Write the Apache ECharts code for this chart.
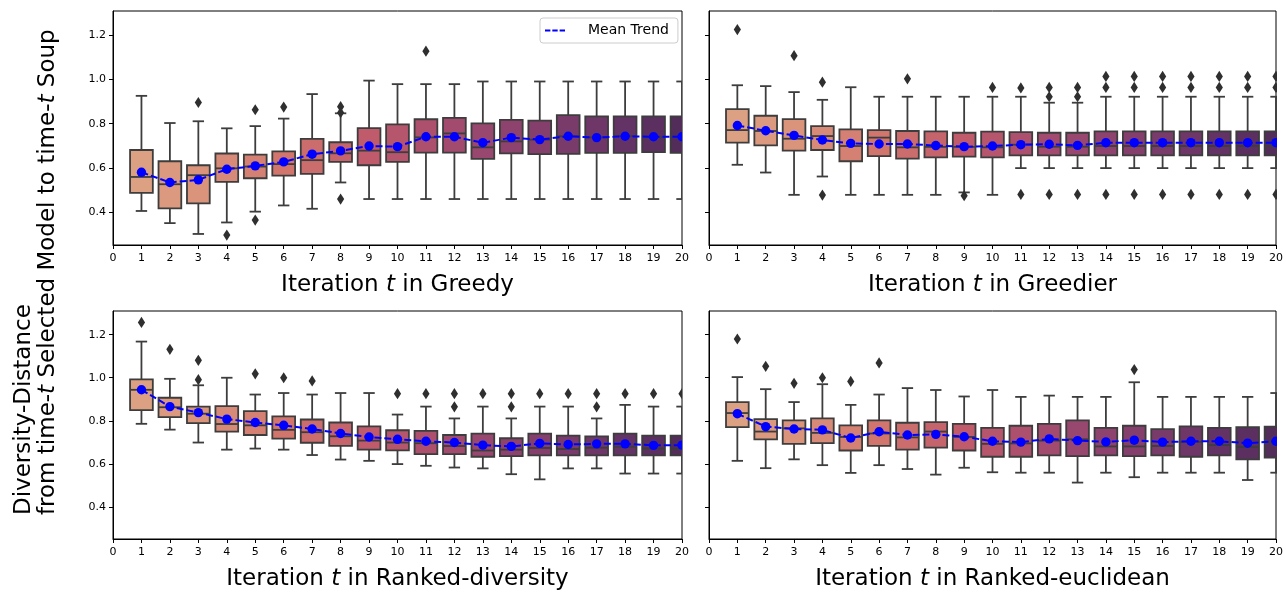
<!DOCTYPE html>
<html>
<head>
<meta charset="utf-8">
<script src="https://cdn.jsdelivr.net/npm/echarts@6/dist/echarts.min.js"></script>
<style>
html,body{margin:0;padding:0;background:#fff;}
#chart{width:1286px;height:592px;}
</style>
</head>
<body>
<div id="chart"></div>
<script>
// ---------- data ----------
const iterations = [1,2,3,4,5,6,7,8,9,10,11,12,13,14,15,16,17,18,19,20];
const yTickValues = [0.4, 0.6, 0.8, 1.0, 1.2];
const panelNames = ['Greedy', 'Greedier', 'Ranked-diversity', 'Ranked-euclidean'];

// Greedy
const greedyLow    = [0.405,0.350,0.301,0.353,0.402,0.430,0.415,0.534,0.459,0.459,0.459,0.459,0.459,0.459,0.459,0.459,0.459,0.459,0.459,0.459];
const greedyQ1     = [0.487,0.417,0.439,0.537,0.553,0.565,0.573,0.627,0.612,0.627,0.669,0.669,0.641,0.666,0.662,0.663,0.668,0.668,0.671,0.668];
const greedyMedian = [0.559,0.526,0.567,0.598,0.606,0.617,0.635,0.666,0.678,0.671,0.738,0.756,0.693,0.720,0.728,0.743,0.738,0.744,0.738,0.741];
const greedyQ3     = [0.681,0.630,0.612,0.665,0.660,0.675,0.731,0.716,0.780,0.797,0.820,0.826,0.801,0.817,0.814,0.839,0.833,0.833,0.833,0.833];
const greedyHigh   = [0.926,0.803,0.811,0.779,0.789,0.823,0.934,0.847,0.995,0.979,0.979,0.979,0.991,0.991,0.991,0.991,0.991,0.991,0.991,0.991];
const greedyMean   = [0.580,0.534,0.546,0.594,0.609,0.627,0.662,0.677,0.699,0.696,0.741,0.741,0.714,0.737,0.728,0.743,0.737,0.743,0.741,0.741];
const greedyOutliers = [[3,0.896],[4,0.296],[5,0.863],[5,0.364],[6,0.875],[8,0.877],[8,0.850],[8,0.459],[11,1.128]];

// Greedier
const greedierLow    = [0.614,0.579,0.478,0.561,0.478,0.478,0.478,0.478,0.489,0.478,0.599,0.599,0.599,0.599,0.599,0.599,0.599,0.599,0.599,0.599];
const greedierQ1     = [0.714,0.702,0.678,0.681,0.630,0.653,0.642,0.648,0.651,0.648,0.657,0.657,0.657,0.657,0.657,0.657,0.657,0.657,0.657,0.657];
const greedierMedian = [0.771,0.767,0.732,0.744,0.699,0.737,0.693,0.695,0.695,0.693,0.705,0.696,0.696,0.699,0.699,0.699,0.699,0.699,0.699,0.699];
const greedierQ3     = [0.866,0.836,0.821,0.789,0.774,0.771,0.767,0.765,0.759,0.764,0.762,0.759,0.759,0.765,0.765,0.765,0.765,0.765,0.765,0.765];
const greedierHigh   = [0.974,0.970,0.943,0.908,0.965,0.922,0.922,0.922,0.922,0.922,0.922,0.895,0.895,0.922,0.922,0.922,0.922,0.922,0.922,0.922];
const greedierMean   = [0.792,0.768,0.747,0.726,0.711,0.708,0.708,0.701,0.696,0.699,0.705,0.707,0.702,0.714,0.714,0.714,0.714,0.714,0.714,0.714];
const greedierOutliers = [[1,1.226],[3,1.108],[4,0.988],[4,0.477],[7,1.003],[9,0.474],[10,0.964],
  [11,0.962],[11,0.480],[12,0.964],[12,0.922],[12,0.480],[13,0.964],[13,0.922],[13,0.480],
  [14,1.014],[14,0.964],[14,0.480],[15,1.014],[15,0.964],[15,0.480],[16,1.014],[16,0.964],[16,0.480],
  [17,1.014],[17,0.964],[17,0.480],[18,1.014],[18,0.964],[18,0.480],[19,1.014],[19,0.964],[19,0.480],
  [20,1.014],[20,0.964],[20,0.480]];

// Ranked-diversity
const rdivLow    = [0.786,0.759,0.699,0.666,0.671,0.666,0.641,0.620,0.614,0.599,0.591,0.583,0.579,0.552,0.528,0.579,0.579,0.555,0.555,0.555];
const rdivQ1     = [0.850,0.817,0.789,0.750,0.734,0.717,0.698,0.684,0.666,0.663,0.645,0.645,0.633,0.636,0.639,0.639,0.639,0.639,0.639,0.639];
const rdivMedian = [0.944,0.863,0.833,0.785,0.779,0.758,0.747,0.728,0.708,0.699,0.696,0.683,0.662,0.666,0.674,0.669,0.675,0.680,0.671,0.669];
const rdivQ3     = [0.992,0.907,0.866,0.868,0.845,0.821,0.806,0.792,0.774,0.756,0.753,0.734,0.740,0.719,0.740,0.731,0.728,0.740,0.731,0.731];
const rdivHigh   = [1.168,0.995,0.965,1.000,0.922,0.929,0.922,0.929,0.929,0.829,0.866,0.811,0.866,0.811,0.866,0.866,0.811,0.874,0.866,0.866];
const rdivMean   = [0.944,0.866,0.838,0.808,0.792,0.779,0.762,0.741,0.725,0.714,0.705,0.699,0.687,0.681,0.695,0.690,0.693,0.693,0.686,0.687];
const rdivOutliers = [[1,1.257],[2,1.132],[3,1.081],[3,0.991],[5,1.018],[6,1.000],[7,0.985],[10,0.926],[11,0.926],
  [12,0.926],[12,0.865],[13,0.926],[14,0.926],[14,0.865],[15,0.926],[16,0.926],[17,0.926],[17,0.865],
  [18,0.926],[19,0.926],[20,0.926]];

// Ranked-euclidean
const reucLow    = [0.614,0.580,0.621,0.594,0.558,0.594,0.576,0.550,0.582,0.561,0.559,0.559,0.513,0.559,0.538,0.559,0.559,0.559,0.525,0.559];
const reucQ1     = [0.771,0.714,0.693,0.696,0.662,0.684,0.666,0.675,0.662,0.633,0.633,0.639,0.636,0.639,0.636,0.639,0.633,0.639,0.621,0.629];
const reucMedian = [0.836,0.750,0.765,0.744,0.725,0.741,0.723,0.750,0.725,0.693,0.695,0.708,0.714,0.681,0.681,0.683,0.702,0.687,0.678,0.701];
const reucQ3     = [0.887,0.808,0.802,0.811,0.779,0.802,0.791,0.794,0.786,0.767,0.777,0.786,0.802,0.767,0.777,0.761,0.774,0.767,0.770,0.773];
const reucHigh   = [1.003,0.947,0.887,0.970,0.874,0.922,0.952,0.943,0.913,0.943,0.911,0.917,0.911,0.911,0.979,0.911,0.911,0.911,0.911,0.929];
const reucMean   = [0.833,0.773,0.762,0.758,0.720,0.749,0.734,0.737,0.726,0.705,0.701,0.716,0.708,0.702,0.710,0.701,0.705,0.705,0.696,0.705];
const reucOutliers = [[1,1.180],[2,1.053],[3,0.974],[4,1.000],[5,0.983],[6,1.069],[15,1.038]];

// ---------- styling ----------
const boxColors = ['#dca082','#db9a7f','#d9947b','#d78a77','#d48072','#d2766d','#cc6d6d','#c6646c','#c05b6c','#b6566d',
                   '#ac506e','#a24b6f','#98476e','#8e436e','#843f6d','#793b6a','#6f3768','#643365','#5b3060','#522d5a'];
const FONT = 'DejaVu Sans';
const EDGE = '#3d3d3d';
const TITLE_SIZE = 23;
const gridPos = [{left:113, top:11}, {left:709, top:11}, {left:113, top:311}, {left:709, top:311}];

const panels = [
  {low:greedyLow, q1:greedyQ1, med:greedyMedian, q3:greedyQ3, high:greedyHigh, mean:greedyMean, out:greedyOutliers},
  {low:greedierLow, q1:greedierQ1, med:greedierMedian, q3:greedierQ3, high:greedierHigh, mean:greedierMean, out:greedierOutliers},
  {low:rdivLow, q1:rdivQ1, med:rdivMedian, q3:rdivQ3, high:rdivHigh, mean:rdivMean, out:rdivOutliers},
  {low:reucLow, q1:reucQ1, med:reucMedian, q3:reucQ3, high:reucHigh, mean:reucMean, out:reucOutliers}
];

function renderBox(params, api) {
  const x = api.value(0);
  const lo = api.coord([x, api.value(1)]);
  const q1 = api.coord([x, api.value(2)]);
  const md = api.coord([x, api.value(3)]);
  const q3 = api.coord([x, api.value(4)]);
  const hi = api.coord([x, api.value(5)]);
  const w = api.size([0.8, 0])[0];
  const cx = lo[0];
  const cap = w / 4;
  const st = {stroke: EDGE, lineWidth: 1.8};
  return {type:'group', children:[
    {type:'line', shape:{x1:cx, y1:hi[1], x2:cx, y2:q3[1]}, style:st},
    {type:'line', shape:{x1:cx, y1:q1[1], x2:cx, y2:lo[1]}, style:st},
    {type:'line', shape:{x1:cx-cap, y1:hi[1], x2:cx+cap, y2:hi[1]}, style:st},
    {type:'line', shape:{x1:cx-cap, y1:lo[1], x2:cx+cap, y2:lo[1]}, style:st},
    {type:'rect', shape:{x:cx-w/2, y:q3[1], width:w, height:q1[1]-q3[1]},
      style:{fill: boxColors[params.dataIndex], stroke: EDGE, lineWidth: 1.8}},
    {type:'line', shape:{x1:cx-w/2, y1:md[1], x2:cx+w/2, y2:md[1]}, style:st}
  ]};
}
function renderMean(params, api) {
  const p = api.coord([api.value(0), api.value(1)]);
  return {type:'circle', shape:{cx:p[0], cy:p[1], r:4.7}, style:{fill:'#0000ff'}};
}
function renderOutlier(params, api) {
  const p = api.coord([api.value(0), api.value(1)]);
  const hw = 3.6, hh = 5.6;
  return {type:'polygon', shape:{points:[[p[0],p[1]-hh],[p[0]+hw,p[1]],[p[0],p[1]+hh],[p[0]-hw,p[1]]]},
    style:{fill:'#2f2f2f'}};
}

const grid = [], xAxis = [], yAxis = [], series = [];
panels.forEach((p, i) => {
  grid.push({left:gridPos[i].left, top:gridPos[i].top, width:569, height:234,
    show:true, borderColor:'#000', borderWidth:1, backgroundColor:'transparent'});
  xAxis.push({
    gridIndex:i, type:'value', min:0, max:20, interval:1,
    name:'Iteration {it|t} in ' + panelNames[i], nameLocation:'middle', nameGap:29,
    nameTextStyle:{fontFamily:FONT, fontSize:TITLE_SIZE, color:'#000',
      rich:{it:{fontFamily:FONT, fontSize:TITLE_SIZE, fontStyle:'italic', color:'#000'}}},
    axisLine:{show:true, lineStyle:{color:'#000', width:1}},
    axisTick:{show:true, length:4, lineStyle:{color:'#000'}},
    axisLabel:{fontFamily:FONT, fontSize:11, color:'#000', margin:8},
    splitLine:{show:false}
  });
  yAxis.push({
    gridIndex:i, type:'value', min:0.251, max:1.31,
    axisLine:{show:true, lineStyle:{color:'#000', width:1}},
    axisTick:{show:true, length:4, customValues:yTickValues, lineStyle:{color:'#000'}},
    axisLabel:{show: i % 2 === 0, customValues:yTickValues, formatter: v => Number(v).toFixed(1),
      fontFamily:FONT, fontSize:11, color:'#000', margin:7},
    splitLine:{show:false}
  });
  series.push({
    type:'custom', xAxisIndex:i, yAxisIndex:i, clip:true, z:2, silent:true,
    data: iterations.map((t,k) => [t, p.low[k], p.q1[k], p.med[k], p.q3[k], p.high[k]]),
    encode:{x:0, y:[1,2,3,4,5]},
    renderItem: renderBox
  });
  series.push({
    type:'line', name:'Mean Trend', xAxisIndex:i, yAxisIndex:i, clip:true, z:3, silent:true,
    data: iterations.map((t,k) => [t, p.mean[k]]),
    symbol:'none', lineStyle:{color:'#0000ff', width:2, type:[7,3]}, itemStyle:{color:'#0000ff'}
  });
  series.push({
    type:'custom', xAxisIndex:i, yAxisIndex:i, clip:true, z:4, silent:true,
    data: iterations.map((t,k) => [t, p.mean[k]]),
    encode:{x:0, y:1}, renderItem: renderMean
  });
  series.push({
    type:'custom', xAxisIndex:i, yAxisIndex:i, clip:true, z:5, silent:true,
    data: p.out, encode:{x:0, y:1}, renderItem: renderOutlier
  });
});

const option = {
  animation:false,
  backgroundColor:'#fff',
  textStyle:{fontFamily:FONT},
  grid, xAxis, yAxis, series,
  legend:{
    data:[{name:'Mean Trend', icon:'path://M0,0h5.5v2h-5.5z M7.5,0h5.5v2h-5.5z M15,0h5.5v2h-5.5z'}],
    left:540, top:18, orient:'horizontal',
    padding:[5,9,5,5], itemWidth:20, itemHeight:2.2,
    itemStyle:{color:'#0000ff'},
    borderColor:'#cccccc', borderWidth:1, borderRadius:3, backgroundColor:'rgba(255,255,255,0.8)',
    textStyle:{fontFamily:FONT, fontSize:14, color:'#000', padding:[0,0,0,18], lineHeight:15}
  },
  graphic:[
    {type:'text', x:24, y:515, rotation:Math.PI/2,
      style:{text:'Diversity-Distance', fontFamily:FONT, fontSize:TITLE_SIZE, fill:'#000', align:'left', verticalAlign:'middle'}},
    {type:'text', x:48, y:515, rotation:Math.PI/2,
      style:{text:'from time-{it|t} Selected Model to time-{it|t} Soup', fontFamily:FONT, fontSize:TITLE_SIZE, fill:'#000',
        align:'left', verticalAlign:'middle',
        rich:{it:{fontFamily:FONT, fontSize:TITLE_SIZE, fontStyle:'italic', fill:'#000'}}}}
  ]
};
const chart = echarts.init(document.getElementById('chart'), null, {renderer:'canvas'});
chart.setOption(option);
</script>
</body>
</html>
